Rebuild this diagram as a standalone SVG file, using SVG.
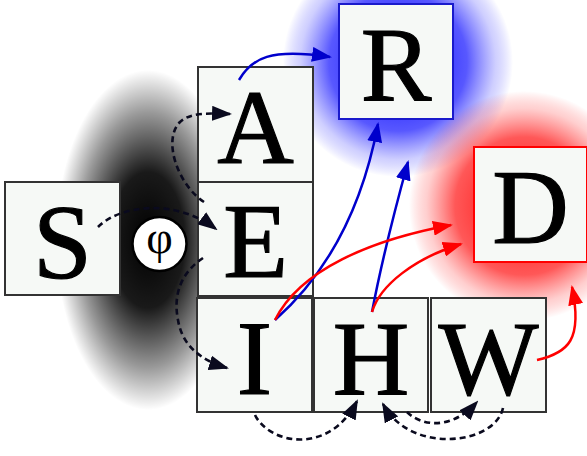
<svg xmlns="http://www.w3.org/2000/svg" width="587" height="456" viewBox="0 0 587 456">
<defs>
<radialGradient id="gBlack" cx="0.5" cy="0.5" r="0.5">
<stop offset="0" stop-color="#000" stop-opacity="1"/>
<stop offset="0.4" stop-color="#000" stop-opacity="0.9"/>
<stop offset="0.75" stop-color="#000" stop-opacity="0.4"/>
<stop offset="1" stop-color="#000" stop-opacity="0"/>
</radialGradient>
<radialGradient id="gBlue" cx="0.5" cy="0.5" r="0.5">
<stop offset="0" stop-color="#0000ff" stop-opacity="1"/>
<stop offset="0.6" stop-color="#2020ff" stop-opacity="0.75"/>
<stop offset="0.85" stop-color="#4040ff" stop-opacity="0.25"/>
<stop offset="1" stop-color="#0000ff" stop-opacity="0"/>
</radialGradient>
<radialGradient id="gRed" cx="0.5" cy="0.5" r="0.5">
<stop offset="0" stop-color="#ff0000" stop-opacity="1"/>
<stop offset="0.6" stop-color="#ff2020" stop-opacity="0.75"/>
<stop offset="0.85" stop-color="#ff4040" stop-opacity="0.25"/>
<stop offset="1" stop-color="#ff0000" stop-opacity="0"/>
</radialGradient>
<marker id="mBlack" viewBox="0 0 10 10" refX="9" refY="5" markerWidth="20" markerHeight="15" markerUnits="userSpaceOnUse" orient="auto" preserveAspectRatio="none">
<path d="M0,0 L10,5 L0,10 z" fill="#0a0a1e"/>
</marker>
<marker id="mBlue" viewBox="0 0 10 10" refX="9" refY="5" markerWidth="20" markerHeight="15" markerUnits="userSpaceOnUse" orient="auto" preserveAspectRatio="none">
<path d="M0,0 L10,5 L0,10 z" fill="#0000cc"/>
</marker>
<marker id="mRed" viewBox="0 0 10 10" refX="9" refY="5" markerWidth="20" markerHeight="15" markerUnits="userSpaceOnUse" orient="auto" preserveAspectRatio="none">
<path d="M0,0 L10,5 L0,10 z" fill="#ff0000"/>
</marker>
</defs>
<style>
.box{fill:#f6f9f6;stroke:#333;stroke-width:2}
.boxB{fill:#f6f9f6;stroke:#1a1acc;stroke-width:2}
.boxR{fill:#f6f9f6;stroke:#ff0000;stroke-width:2}
.lbl{font-family:"Liberation Serif","Times New Roman",serif;font-size:106px;fill:#000;stroke:#000;stroke-width:1.2;text-anchor:middle}
.dash{fill:none;stroke:#0a0a1e;stroke-width:2.6;stroke-dasharray:6,4;marker-end:url(#mBlack)}
.blue{fill:none;stroke:#0000cc;stroke-width:2.5;marker-end:url(#mBlue)}
.red{fill:none;stroke:#ff0000;stroke-width:2.5;marker-end:url(#mRed)}
</style>
<rect width="587" height="456" fill="#fff"/>
<g id="halos">
<ellipse cx="148" cy="240" rx="92" ry="170" fill="url(#gBlack)"/>
<circle cx="398" cy="62" r="115" fill="url(#gBlue)"/>
<circle cx="524" cy="206" r="115" fill="url(#gRed)"/>
</g>
<g id="node-S"><rect class="box" x="5" y="182" width="115" height="113"/><text class="lbl" x="62.5" y="278">S</text></g>
<g id="node-A"><rect class="box" x="198" y="67" width="115" height="115"/><text class="lbl" x="255.5" y="163">A</text></g>
<g id="node-E"><rect class="box" x="198" y="182" width="115" height="114"/><text class="lbl" x="255.5" y="277">E</text></g>
<g id="node-I"><rect class="box" x="197" y="298" width="115" height="114"/><text class="lbl" x="254.5" y="394">I</text></g>
<g id="node-H"><rect class="box" x="314" y="298" width="114" height="114"/><text class="lbl" x="371" y="394">H</text></g>
<g id="node-W"><rect class="box" x="431" y="298" width="115" height="114"/><text class="lbl" x="488.5" y="394">W</text></g>
<g id="node-R"><rect class="boxB" x="339" y="4" width="114" height="115"/><text class="lbl" x="396" y="100">R</text></g>
<g id="node-D"><rect class="boxR" x="474" y="147" width="113" height="115"/><text class="lbl" x="530.5" y="243">D</text></g>
<g id="node-phi"><circle cx="159.5" cy="244" r="27" fill="#fff" stroke="#000" stroke-width="2.5"/><text x="159.5" y="253" font-family="Liberation Serif,'Times New Roman',serif" font-size="46" text-anchor="middle">φ</text></g>
<g id="connectors">
<path class="dash" d="M98,227 C120,205 175,198 216,229"/>
<path class="dash" d="M204,202 C178,185 162,140 180,122 C190,113 205,113 230,114"/>
<path class="dash" d="M203,258 C185,270 172,290 178,320 C182,345 200,360 227,368"/>
<path class="dash" d="M255,415 C270,445 330,455 357,401"/>
<path class="dash" d="M407,412 C420,425 450,432 477,402"/>
<path class="dash" d="M503,408 C495,445 410,455 383,404"/>
<path class="blue" d="M239,80 C252,58 270,48 330,57"/>
<path class="blue" d="M275,320 C320,280 360,220 378,124"/>
<path class="blue" d="M372,312 C380,270 392,220 408,162"/>
<path class="red" d="M275,320 C300,270 370,240 451,225"/>
<path class="red" d="M372,312 C380,285 415,258 461,244"/>
<path class="red" d="M537,360 C568,353 583,340 572,287"/>
</g>
</svg>
